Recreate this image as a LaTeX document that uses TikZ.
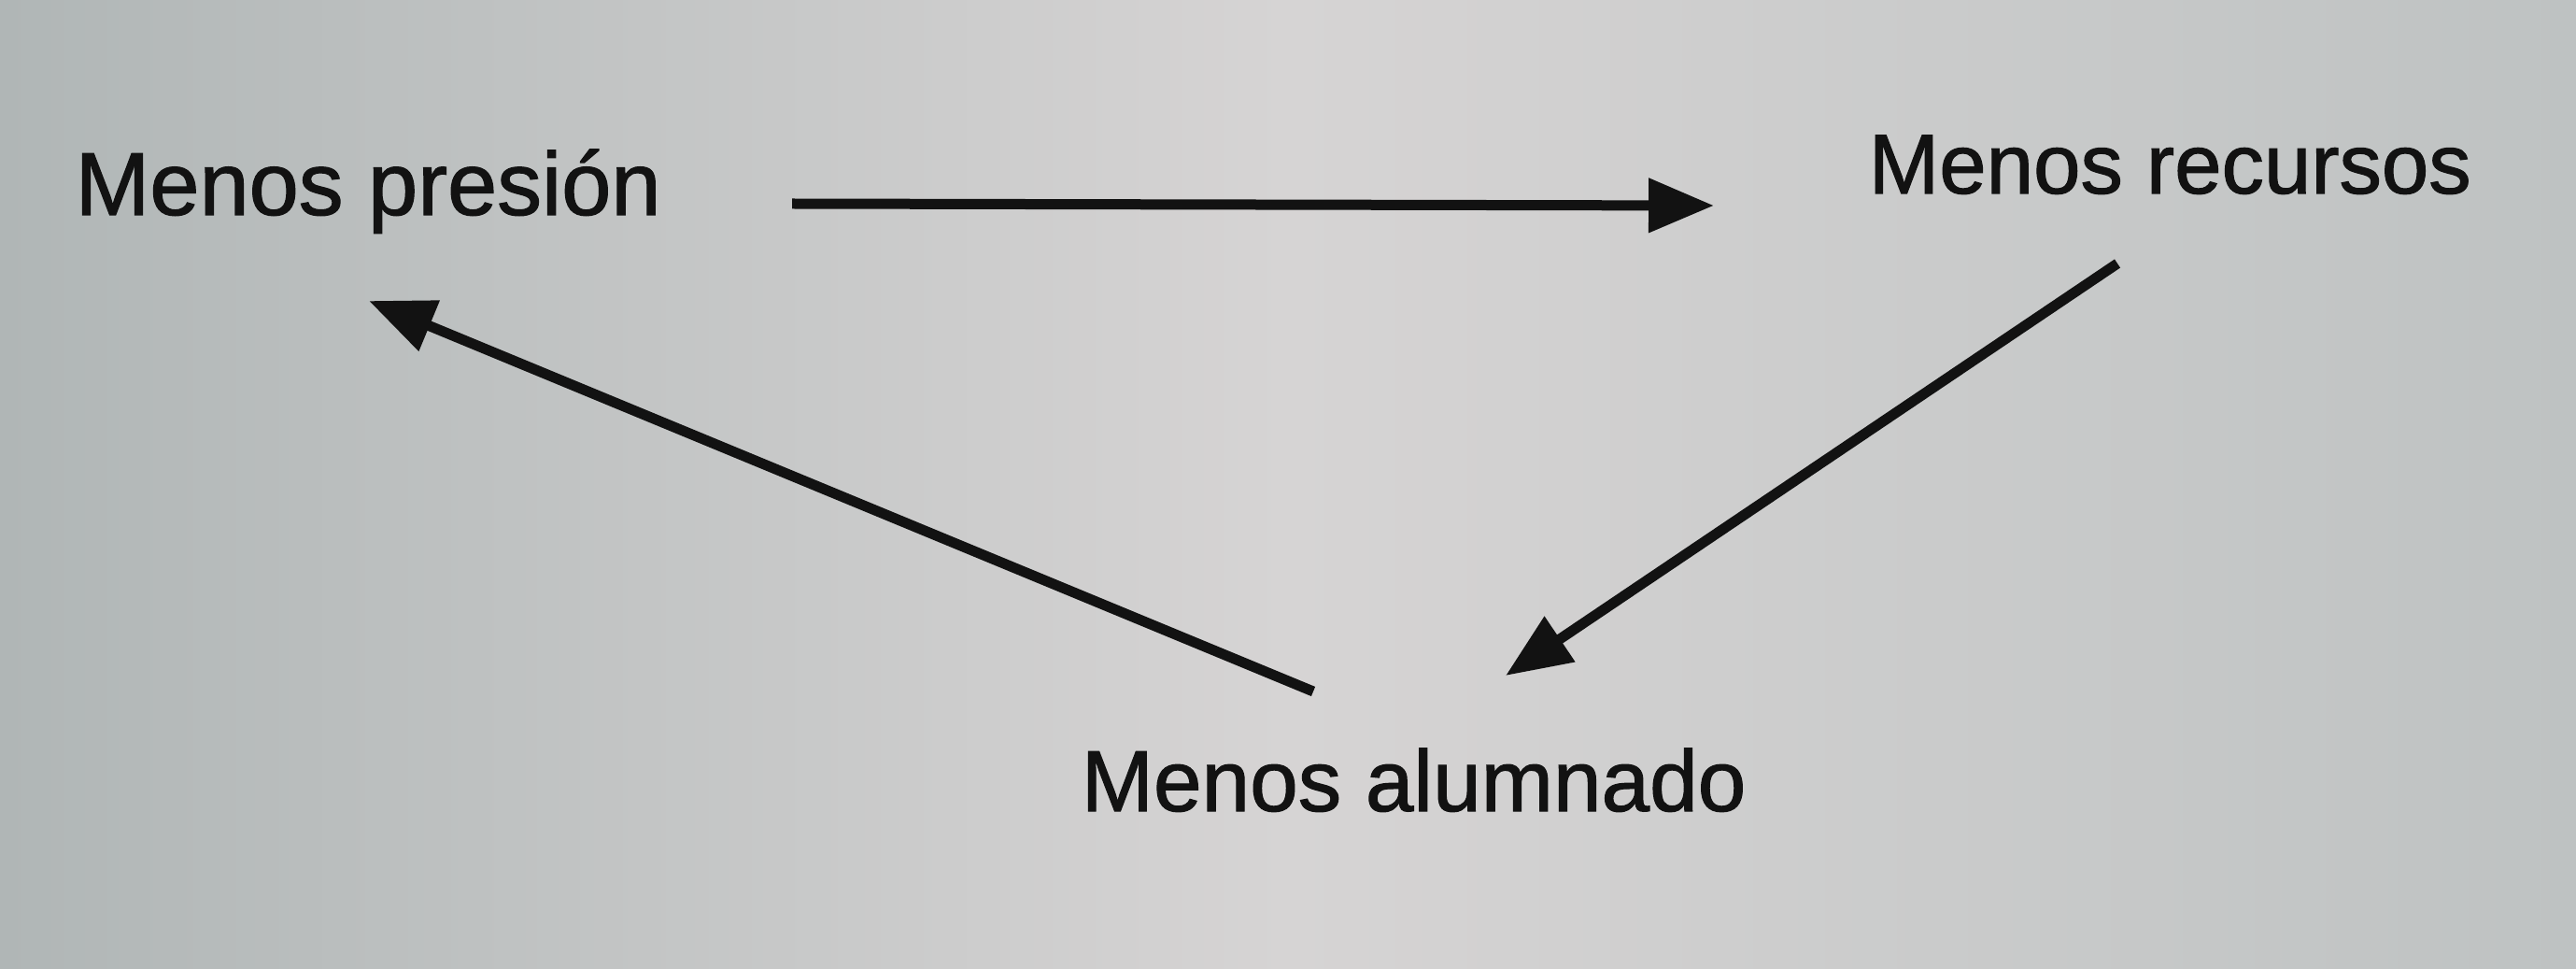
\documentclass[tikz,border=0pt]{standalone}
\usepackage{fontspec}
\setmainfont{Liberation Sans}
\newfontface\lblface{Liberation Sans}[FakeBold=1.2]
\usetikzlibrary{arrows.meta}
\definecolor{cScreen}{RGB}{214,212,212}
\definecolor{cEdgeL}{RGB}{176,182,182}
\definecolor{cEdgeR}{RGB}{190,194,194}
\definecolor{cInk}{RGB}{18,18,18}
\tikzset{
  lbl/.style={font=\lblface\fontsize{#1}{#1}\selectfont, text=cInk, inner sep=0pt, anchor=base west},
  arr/.style={draw=cInk, line width=0.11cm, -{Triangle[length=0.7cm,width=0.56cm]}}
}
\begin{document}
\begin{tikzpicture}
\useasboundingbox (0,0) rectangle (27.58,10.36);
\shade[left color=cEdgeL, right color=cEdgeR, middle color=cScreen] (0,0) rectangle (27.58,10.36);

%三個節點
\node[lbl=27.2] (nPres) at (0.80,8.06) {Menos presión};
\node[lbl=25.8] (nRecur) at (20.00,8.29) {Menos recursos};
\node[lbl=26.4] (nAlum) at (11.57,1.68) {Menos alumnado};

%箭頭的端點
\coordinate (cPresOut) at (8.48,8.18);
\coordinate (cRecurIn) at (18.35,8.16);
\coordinate (cRecurOut) at (22.67,7.54);
\coordinate (cAlumIn) at (16.12,3.13);
\coordinate (cAlumOut) at (14.06,2.96);
\coordinate (cPresIn) at (3.95,7.14);

\draw[arr] (cPresOut) -- (cRecurIn);
\draw[arr] (cRecurOut) -- (cAlumIn);
\draw[arr] (cAlumOut) -- (cPresIn);

\end{tikzpicture}
\end{document}
